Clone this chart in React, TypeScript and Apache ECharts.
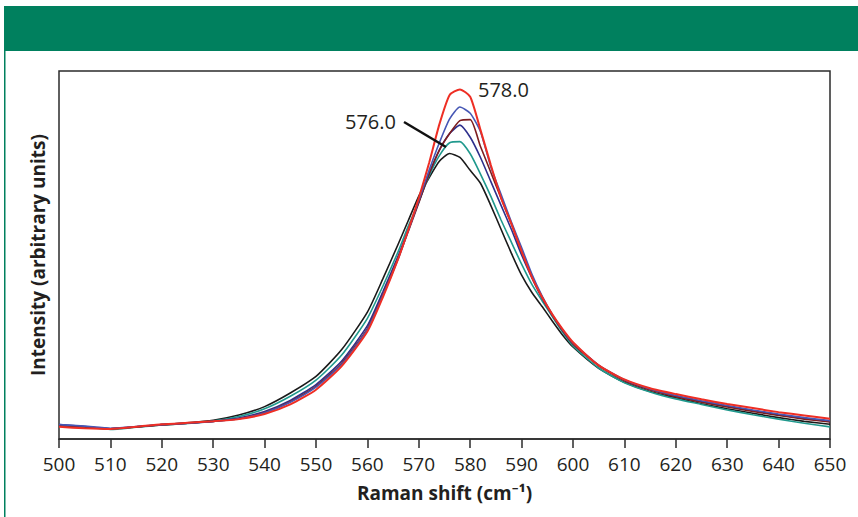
import React, { useEffect, useRef } from "react";
import * as echarts from "echarts";

const ramanShift = [500,505,510,515,520,525,530,535,540,545,550,555,560,563,566,568,570,572,574,576,578,580,582,584,586,588,590,592,594,596,598,600,605,610,615,620,625,630,635,640,645,650];

const blackSeries = [3.6,3.2,2.8,3.3,3.9,4.4,5.1,6.5,8.8,12.5,17.0,24.3,34.5,43.5,53.0,59.5,66.0,71.0,75.5,77.6,76.5,73.0,69.5,63.5,57.0,50.5,44.5,39.8,36.0,32.0,28.2,25.0,19.2,15.4,12.9,11.2,9.6,8.2,7.0,5.8,4.8,4.0];
const tealSeries = [3.5,3.2,2.6,3.2,3.8,4.2,4.9,6.1,8.2,11.6,16.0,22.8,32.8,41.5,51.0,58.0,64.5,71.5,77.0,80.5,80.8,77.5,72.0,66.0,59.5,53.5,47.5,42.0,37.5,33.2,29.0,25.3,19.3,15.3,12.8,10.9,9.4,7.9,6.6,5.4,4.3,3.3];
const navySeries = [3.9,3.4,2.8,3.3,3.9,4.3,4.8,5.7,7.5,10.5,14.8,21.2,30.8,40.0,49.8,57.0,64.5,72.0,78.5,83.0,85.3,82.0,76.5,70.0,63.5,57.0,50.0,43.8,38.2,33.6,29.5,26.0,20.0,16.0,13.5,11.7,10.2,8.9,7.7,6.6,5.6,4.8];
const maroonSeries = [3.7,3.3,2.8,3.3,3.8,4.3,4.8,5.5,7.2,10.1,14.3,20.6,30.0,39.2,49.2,56.6,64.2,72.0,78.5,83.0,86.5,86.8,79.5,72.5,65.5,58.5,51.0,44.2,38.5,33.6,29.4,25.8,19.9,15.8,13.3,11.5,10.0,8.7,7.5,6.4,5.4,4.6];
const blueSeries = [3.9,3.5,2.9,3.4,3.9,4.3,4.8,5.5,7.1,10.0,14.1,20.3,29.8,39.0,49.0,56.8,64.8,73.0,80.5,87.0,90.2,88.5,83.5,74.0,66.5,59.0,52.0,44.8,38.8,33.8,29.6,26.1,20.1,16.1,13.6,11.8,10.4,9.1,7.9,6.8,5.8,5.0];
const redSeries = [3.3,2.9,2.7,3.3,4.0,4.4,4.8,5.4,6.8,9.4,13.4,19.8,29.2,38.5,49.0,57.0,65.5,75.0,85.5,93.5,95.0,93.0,84.0,74.5,65.5,58.5,51.0,44.0,38.5,33.8,29.8,26.3,20.0,16.2,13.8,12.2,10.8,9.5,8.4,7.3,6.4,5.5];

const seriesList = [
  { name: "black", data: blackSeries, color: "#1a1a1a", width: 1.6 },
  { name: "teal", data: tealSeries, color: "#20998d", width: 1.6 },
  { name: "navy", data: navySeries, color: "#2e2f8c", width: 1.6 },
  { name: "maroon", data: maroonSeries, color: "#7d1d1f", width: 1.6 },
  { name: "blue", data: blueSeries, color: "#4657b5", width: 1.6 },
  { name: "red", data: redSeries, color: "#ee2e24", width: 2 },
];

const xTicks = { min: 500, max: 650, interval: 10 };
const labelHigh = "578.0";
const labelLow = "576.0";

const FONT = "'Open Sans', 'Noto Sans', sans-serif";

export default function App() {
  const ref = useRef<HTMLDivElement>(null);
  useEffect(() => {
    if (!ref.current) return;
    const chart = echarts.init(ref.current, undefined, { renderer: "svg" });
    chart.setOption({
      animation: false,
      backgroundColor: "#ffffff",
      textStyle: { fontFamily: FONT },
      grid: {
        show: true,
        left: 59,
        right: 28,
        top: 71,
        bottom: 78,
        borderColor: "#2b2b2b",
        borderWidth: 1.5,
        backgroundColor: "transparent",
      },
      xAxis: {
        type: "value",
        min: xTicks.min,
        max: xTicks.max,
        interval: xTicks.interval,
        name: "Raman shift (cm\u207B\u00B9)",
        nameLocation: "middle",
        nameGap: 44,
        nameTextStyle: { fontSize: 19, fontWeight: "bold", color: "#231f20", fontFamily: FONT },
        axisLine: { show: true, lineStyle: { color: "#2b2b2b", width: 1.5 } },
        axisTick: { show: true, length: 9, lineStyle: { color: "#2b2b2b", width: 1.5 } },
        axisLabel: { fontSize: 19, color: "#231f20", margin: 15, fontFamily: FONT },
        splitLine: { show: false },
      },
      yAxis: {
        type: "value",
        min: 0,
        max: 100,
        name: "Intensity (arbitrary units)",
        nameLocation: "middle",
        nameGap: 12,
        nameTextStyle: { fontSize: 19, fontWeight: "bold", color: "#231f20", fontFamily: FONT },
        axisLine: { show: false },
        axisTick: { show: false },
        axisLabel: { show: false },
        splitLine: { show: false },
      },
      series: seriesList.map((s) => ({
        type: "line",
        name: s.name,
        data: ramanShift.map((x, i) => [x, s.data[i]]),
        showSymbol: false,
        smooth: 0.2,
        lineStyle: { color: s.color, width: s.width },
        itemStyle: { color: s.color },
        z: 2,
      })),
      graphic: [
        { type: "rect", shape: { x: 4, y: 6, width: 854, height: 45 }, style: { fill: "#00805e" }, silent: true },
        { type: "rect", shape: { x: 4, y: 51, width: 1.5, height: 466 }, style: { fill: "#00805e" }, silent: true },
        {
          type: "text",
          x: 478,
          y: 89,
          style: { text: labelHigh, fontSize: 20, fill: "#231f20", fontFamily: FONT, textVerticalAlign: "middle", verticalAlign: "middle" },
        },
        {
          type: "text",
          x: 345,
          y: 121,
          style: { text: labelLow, fontSize: 20, fill: "#231f20", fontFamily: FONT, textVerticalAlign: "middle", verticalAlign: "middle" },
        },
        {
          type: "line",
          shape: { x1: 404, y1: 122, x2: 446, y2: 147 },
          style: { stroke: "#111", lineWidth: 2.5 },
          z: 10,
        },
      ],
    });
    return () => chart.dispose();
  }, []);
  return (
    <div
      ref={ref}
      style={{ position: "fixed", left: 0, top: 0, width: 858, height: 517 }}
    />
  );
}
